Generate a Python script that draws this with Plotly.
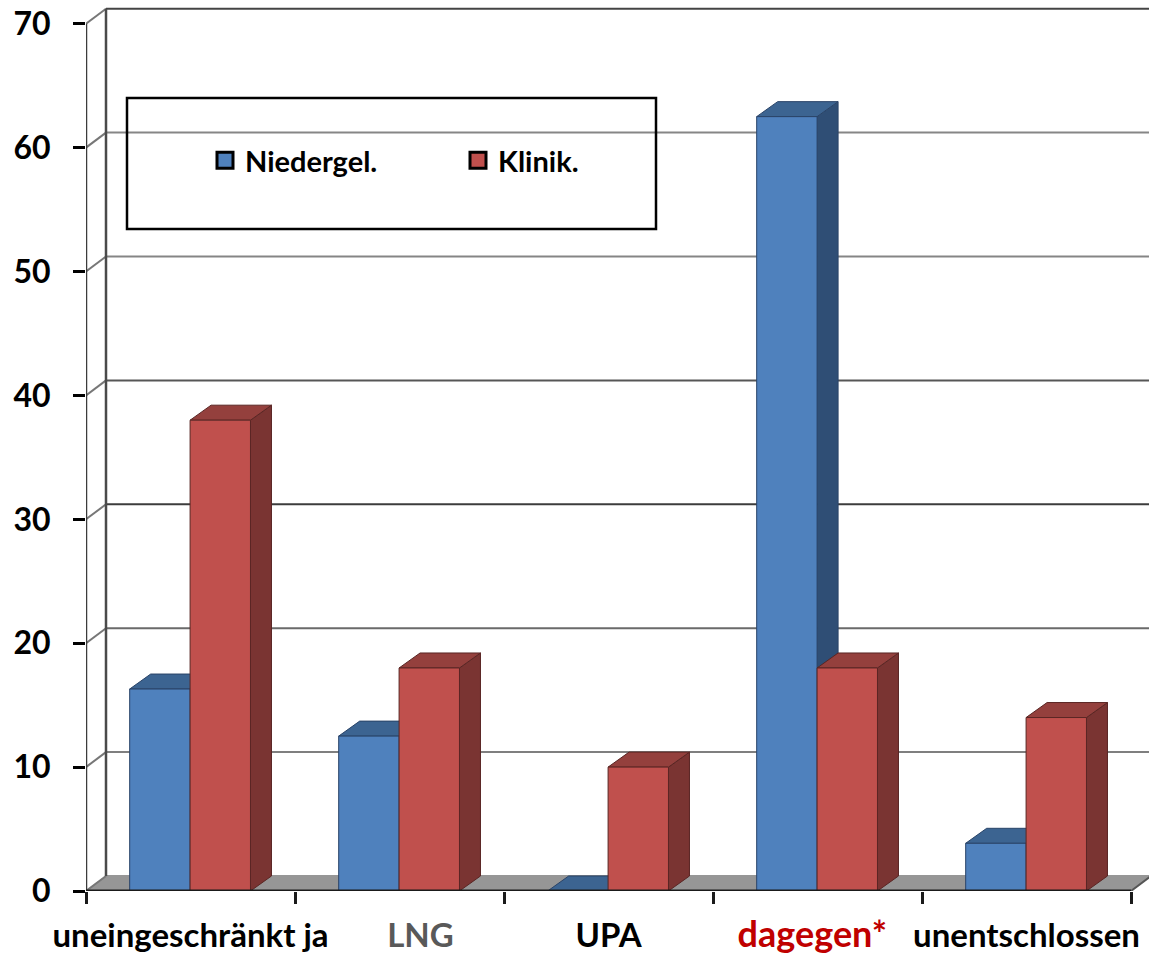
import plotly.graph_objects as go

# Survey results per answer group, in percent
categories = ["uneingeschränkt ja", "LNG", "UPA", "dagegen*", "unentschlossen"]
niedergel = [16.3, 12.5, 0.0, 62.5, 3.85]
klinik = [38.0, 18.0, 10.0, 18.0, 14.0]
y_ticks = [0, 10, 20, 30, 40, 50, 60, 70]

# Text colour and size of each category label
label_colors = ["#000000", "#595959", "#000000", "#C00000", "#000000"]
label_sizes = [33, 33, 33, 36, 33]
# Where each category label sits along the axis
label_positions = [0.5, 1.6, 2.5, 3.475, 4.5]
# Grey of the back-wall line for each y tick
grid_colors = ["#969696", "#7f7f7f", "#6a6a6a", "#3c3c3c", "#565656", "#858585", "#868686", "#444444"]

# Page and plot geometry in pixels
W, H = 1149, 954
LEFT, BOTTOM, TOP = 86, 63, 4
PX_PER_CAT = 209.0
PX_PER_UNIT = 12.39
x_max = (W - LEFT) / PX_PER_CAT
y_max = (H - BOTTOM - TOP) / PX_PER_UNIT

# Depth of the fake 3D box, expressed in axis units
DX = 20.0 / PX_PER_CAT
BAR_DX = 21.0 / PX_PER_CAT
DY = 15.0 / PX_PER_UNIT

# Bar edges relative to the middle of a category
BLUE_SPAN = (-0.291, -0.002)
RED_SPAN = (-0.002, 0.287)

STYLE = {
    "blue": dict(front="#4F81BD", top="#3C6491", side="#2F4E75", edge="#2A4468"),
    "red": dict(front="#C0504D", top="#94403D", side="#7A3432", edge="#5A2624"),
}
FONT = "Lato, Carlito, sans-serif"


def polygons(values, span, face):
    """Outline one face of every bar, with None between the polygons."""
    xs, ys = [], []
    for i, v in enumerate(values):
        left, right = i + 0.5 + span[0], i + 0.5 + span[1]
        if face == "front":
            px = [left, right, right, left, left]
            py = [0, 0, v, v, 0]
        elif face == "top":
            px = [left, right, right + BAR_DX, left + BAR_DX, left]
            py = [v, v, v + DY, v + DY, v]
        else:
            px = [right, right + BAR_DX, right + BAR_DX, right, right]
            py = [0, DY, v + DY, v, 0]
        xs += px + [None]
        ys += py + [None]
    return xs, ys


def line(fig, xs, ys, color, width=2):
    fig.add_trace(go.Scatter(x=xs, y=ys, mode="lines", line=dict(color=color, width=width),
                             hoverinfo="skip", showlegend=False, cliponaxis=False))


fig = go.Figure()

# Floor of the box
n = len(categories)
fig.add_trace(go.Scatter(x=[0, DX, n + DX, n, 0], y=[0, DY, DY, 0, 0], mode="lines", fill="toself",
                         fillcolor="#969696", line=dict(color="#969696", width=1),
                         hoverinfo="skip", showlegend=False))

# Back-wall lines and the short diagonals joining them to the front axis
for tick, color in zip(y_ticks, grid_colors):
    line(fig, [DX, x_max], [tick + DY, tick + DY], color)
    line(fig, [0, DX], [tick, tick + DY], "#777777")

# Vertical edges of the wall
line(fig, [0, 0], [0, y_ticks[-1]], "#3c3c3c", 2.5)
line(fig, [DX, DX], [DY, y_ticks[-1] + DY], "#4a4a4a", 2.5)
line(fig, [n, n + DX], [0, DY], "#555555")

# Bars, back faces first so each series covers the one behind it
for values, span, key in ((niedergel, BLUE_SPAN, "blue"), (klinik, RED_SPAN, "red")):
    s = STYLE[key]
    for face in ("side", "top", "front"):
        xs, ys = polygons(values, span, face)
        fig.add_trace(go.Scatter(x=xs, y=ys, mode="lines", fill="toself", fillcolor=s[face],
                                 line=dict(color=s["edge"], width=1), hoverinfo="skip",
                                 showlegend=False))

# Base line of the chart
line(fig, [0, n], [0, 0], "#1a1a1a", 3)

# Legend keys
for name, key in (("Niedergel.", "blue"), ("Klinik.", "red")):
    fig.add_trace(go.Scatter(x=[None], y=[None], mode="markers", name=name,
                             marker=dict(symbol="square", size=16, color=STYLE[key]["front"],
                                         line=dict(color="#000000", width=3))))

tick_text = [f'<span style="color:{c};font-size:{s}px">{t}</span>'
             for t, c, s in zip(categories, label_colors, label_sizes)]

fig.update_layout(
    width=W, height=H,
    margin=dict(l=LEFT, r=0, t=TOP, b=BOTTOM, pad=0, autoexpand=False),
    paper_bgcolor="white", plot_bgcolor="white",
    font=dict(family=FONT, color="#000000"),
    xaxis=dict(range=[0, x_max], showgrid=False, zeroline=False, showline=False,
               tickmode="array", tickvals=label_positions, ticktext=tick_text,
               ticks="outside", ticklen=0, ticklabelstandoff=15,
               tickfont=dict(size=33, family=FONT, weight="bold"),
               minor=dict(tickmode="array", tickvals=list(range(n + 1)), ticks="outside",
                          ticklen=12, tickwidth=2.5, tickcolor="#1a1a1a", showgrid=False)),
    yaxis=dict(range=[0, y_max], showgrid=False, zeroline=False, showline=False,
               tickmode="array", tickvals=y_ticks, ticks="outside", ticklen=12, tickwidth=2.5,
               tickcolor="#000000", ticklabelstandoff=16,
               tickfont=dict(size=32, family=FONT, weight="bold")),
    legend=dict(orientation="h", x=(205 - LEFT) / (W - LEFT), y=1 - (135 - TOP) / (H - BOTTOM - TOP),
                xanchor="left", yanchor="top", bgcolor="rgba(0,0,0,0)", borderwidth=0,
                entrywidth=208, entrywidthmode="pixels", font=dict(size=29, family=FONT, weight="bold")),
    shapes=[dict(type="rect", xref="x", yref="y",
                 x0=(127 - LEFT) / PX_PER_CAT, x1=(656 - LEFT) / PX_PER_CAT,
                 y0=(H - BOTTOM - 229) / PX_PER_UNIT, y1=(H - BOTTOM - 98) / PX_PER_UNIT,
                 line=dict(color="#000000", width=2.5), fillcolor="rgba(0,0,0,0)")],
)

fig.write_html("out.html", config={"displayModeBar": False})
